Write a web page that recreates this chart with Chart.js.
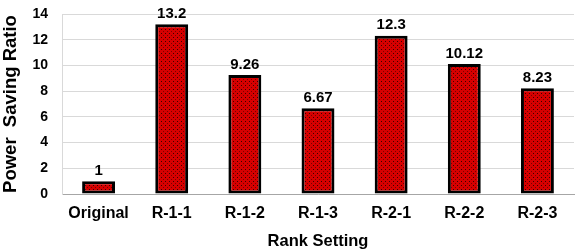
<!DOCTYPE html>
<html>
<head>
<meta charset="utf-8">
<script src="https://cdn.jsdelivr.net/npm/chart.js@4"></script>
<style>
  html, body { margin: 0; padding: 0; background: #fff; }
  #wrap { width: 581px; height: 251px; }
</style>
</head>
<body>
<div id="wrap"><canvas id="chart" width="581" height="251"></canvas></div>
<script>
// Chart data
const categories = ['Original', 'R-1-1', 'R-1-2', 'R-1-3', 'R-2-1', 'R-2-2', 'R-2-3'];
const ratios = [1, 13.2, 9.26, 6.67, 12.3, 10.12, 8.23];
const ratioLabels = ['1', '13.2', '9.26', '6.67', '12.3', '10.12', '8.23'];
const yTicks = [0, 2, 4, 6, 8, 10, 12, 14];

const FONT = '"Liberation Sans", Arial, sans-serif';

// dotted red fill, like the office "small grid" pattern
function makePattern() {
  const c = document.createElement('canvas');
  c.width = 4;
  c.height = 4;
  const g = c.getContext('2d');
  g.fillStyle = '#d60000';
  g.fillRect(0, 0, 4, 4);
  g.fillStyle = '#3a0000';
  g.fillRect(1, 1, 1, 1);
  g.fillStyle = '#7a0000';
  g.fillRect(3, 3, 1, 1);
  return g.createPattern(c, 'repeat');
}

// value labels above each bar
const valueLabels = {
  id: 'valueLabels',
  afterDatasetsDraw(chart) {
    const ctx = chart.ctx;
    const meta = chart.getDatasetMeta(0);
    ctx.save();
    ctx.font = 'bold 15px ' + FONT;
    ctx.fillStyle = '#000';
    ctx.textAlign = 'center';
    ctx.textBaseline = 'bottom';
    meta.data.forEach((bar, i) => {
      ctx.fillText(ratioLabels[i], bar.x, bar.y - 3);
    });
    ctx.restore();
  },
};

const ctx = document.getElementById('chart').getContext('2d');
new Chart(ctx, {
  type: 'bar',
  data: {
    labels: categories,
    datasets: [
      {
        data: ratios,
        backgroundColor: makePattern(),
        borderColor: '#000',
        borderWidth: 3,
        borderSkipped: false,
        categoryPercentage: 1,
        barPercentage: 0.45,
      },
    ],
  },
  options: {
    responsive: false,
    animation: false,
    layout: { padding: { top: 14, right: 7, left: 0, bottom: 0 } },
    plugins: {
      legend: { display: false },
      tooltip: { enabled: false },
    },
    scales: {
      x: {
        grid: { display: false, drawTicks: false },
        border: { color: '#a6a6a6', width: 1 },
        ticks: {
          color: '#000',
          padding: 10,
          font: { family: FONT, size: 16, weight: 'bold' },
        },
        title: {
          display: true,
          text: 'Rank Setting',
          color: '#000',
          padding: { top: 4, bottom: 0 },
          font: { family: FONT, size: 16.5, weight: 'bold' },
        },
        afterFit: (s) => {
          s.height = 57;
          s.paddingLeft = 0;
          s.paddingRight = 0;
        },
      },
      y: {
        min: 0,
        max: 14,
        afterBuildTicks: (s) => { s.ticks = yTicks.map((v) => ({ value: v })); },
        grid: { color: '#d9d9d9', drawTicks: false },
        border: { color: '#d9d9d9', width: 1 },
        ticks: {
          color: '#000',
          padding: 14,
          font: { family: FONT, size: 14, weight: 'bold' },
        },
        title: {
          display: true,
          text: 'Power  Saving Ratio',
          color: '#000',
          padding: { top: 0, bottom: 2 },
          font: { family: FONT, size: 18.5, weight: 'bold' },
        },
        afterFit: (s) => {
          s.width = 62;
          s.paddingTop = 0;
          s.paddingBottom = 0;
        },
      },
    },
  },
  plugins: [valueLabels],
});
</script>
</body>
</html>
